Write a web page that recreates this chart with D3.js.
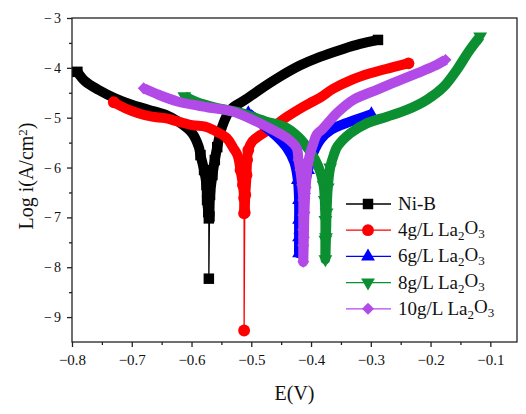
<!DOCTYPE html>
<html>
<head>
<meta charset="utf-8">
<script src="https://cdn.jsdelivr.net/npm/d3@7"></script>
<style>
    body { margin: 0; background: #fff; }
    svg { display: block; font-family: "Liberation Serif", "Times New Roman", serif; }
</style>
</head>
<body>
<div id="chart"></div>
<script>
// polarization curves: [E (V), log i (A/cm2)]
const niB = [
    [-0.791, -4.08], [-0.778, -4.27], [-0.756, -4.44], [-0.728, -4.61], [-0.700, -4.74],
    [-0.672, -4.84], [-0.644, -4.94], [-0.622, -5.08], [-0.599, -5.31], [-0.588, -5.58],
    [-0.585, -5.75], [-0.579, -6.05], [-0.575, -6.35], [-0.574, -6.65], [-0.572, -6.89],
    [-0.571, -7.02], [-0.571, -8.23], [-0.570, -6.98], [-0.569, -6.55], [-0.565, -6.15],
    [-0.561, -5.85], [-0.557, -5.59], [-0.549, -5.19], [-0.535, -4.84], [-0.510, -4.64],
    [-0.491, -4.48], [-0.451, -4.17], [-0.418, -3.95], [-0.385, -3.78], [-0.346, -3.62],
    [-0.318, -3.52], [-0.288, -3.44]
]
const la4 = [
    [-0.730, -4.69], [-0.711, -4.81], [-0.689, -4.91], [-0.666, -4.98], [-0.644, -5.01],
    [-0.622, -5.08], [-0.599, -5.15], [-0.577, -5.18], [-0.563, -5.25], [-0.541, -5.41],
    [-0.530, -5.61], [-0.523, -5.75], [-0.518, -6.05], [-0.514, -6.35], [-0.512, -6.61],
    [-0.512, -6.92], [-0.512, -9.27], [-0.511, -6.90], [-0.510, -6.55], [-0.508, -6.15],
    [-0.507, -5.85], [-0.505, -5.65], [-0.498, -5.47], [-0.485, -5.35], [-0.463, -5.18],
    [-0.440, -4.98], [-0.413, -4.78], [-0.401, -4.70], [-0.385, -4.60], [-0.363, -4.42],
    [-0.334, -4.25], [-0.301, -4.11], [-0.267, -4.00], [-0.237, -3.91]
]
const la6 = [
    [-0.505, -4.91], [-0.482, -5.13], [-0.458, -5.37], [-0.440, -5.61], [-0.428, -5.89],
    [-0.422, -6.25], [-0.420, -6.65], [-0.420, -7.05], [-0.420, -7.40], [-0.420, -7.72],
    [-0.418, -7.25], [-0.416, -6.85], [-0.412, -6.45], [-0.405, -6.05], [-0.396, -5.70],
    [-0.383, -5.42], [-0.366, -5.24], [-0.346, -5.13], [-0.323, -5.03], [-0.299, -4.93]
]
const la8 = [
    [-0.612, -4.57], [-0.593, -4.68], [-0.560, -4.80], [-0.518, -4.90], [-0.477, -5.07],
    [-0.443, -5.19], [-0.421, -5.39], [-0.401, -5.69], [-0.388, -5.97], [-0.379, -6.35],
    [-0.377, -6.65], [-0.376, -7.05], [-0.376, -7.45], [-0.376, -7.84], [-0.375, -7.40],
    [-0.374, -6.90], [-0.372, -6.40], [-0.368, -6.00], [-0.362, -5.75], [-0.356, -5.58],
    [-0.334, -5.31], [-0.306, -5.11], [-0.273, -4.98], [-0.239, -4.84], [-0.206, -4.64],
    [-0.178, -4.38], [-0.156, -4.04], [-0.136, -3.67], [-0.117, -3.37]
]
const la10 = [
    [-0.680, -4.41], [-0.655, -4.54], [-0.622, -4.68], [-0.588, -4.76], [-0.574, -4.79],
    [-0.530, -4.88], [-0.496, -5.05], [-0.463, -5.25], [-0.440, -5.41], [-0.424, -5.61],
    [-0.421, -5.85], [-0.418, -6.05], [-0.415, -6.35], [-0.413, -6.65], [-0.413, -6.95],
    [-0.413, -7.25], [-0.413, -7.56], [-0.413, -7.89], [-0.412, -7.40], [-0.411, -6.90],
    [-0.409, -6.40], [-0.404, -5.85], [-0.396, -5.51], [-0.390, -5.33], [-0.381, -5.23],
    [-0.369, -5.07], [-0.356, -4.90], [-0.329, -4.64], [-0.290, -4.44], [-0.256, -4.27],
    [-0.223, -4.11], [-0.195, -3.97], [-0.175, -3.84]
]

const seriesData = [niB, la4, la6, la8, la10]
const concentrations = [null, 4, 6, 8, 10]   // g/L La2O3, null = plain Ni-B
const colors = ['#000000', '#ff0000', '#0000ff', '#0b8f30', '#b24ae8']
const symbols = ['square', 'circle', 'triangle', 'triangleDown', 'diamond']

const xTicks = [-0.8, -0.7, -0.6, -0.5, -0.4, -0.3, -0.2, -0.1]
const xMinor = [-0.75, -0.65, -0.55, -0.45, -0.35, -0.25, -0.15]
const yTicks = [-9, -8, -7, -6, -5, -4, -3]
const yMinor = [-8.5, -7.5, -6.5, -5.5, -4.5, -3.5]

const margin = { top: 18, right: 9, bottom: 72, left: 72 }
const W = 526, H = 414
const width = W - margin.left - margin.right
const height = H - margin.top - margin.bottom

const svg = d3.select('#chart').append('svg')
    .attr('width', W)
    .attr('height', H)

const chart = svg.append('g')
    .attr('transform', `translate(${margin.left},${margin.top})`)

const x = d3.scaleLinear().domain([-0.8, -0.8 + width / 597.6]).range([0, width])
const y = d3.scaleLinear().domain([-9.5, -3]).range([height, 0])

// axes
const xAxis = chart.append('g')
    .attr('transform', `translate(0,${height})`)
    .call(d3.axisBottom(x).tickValues(xTicks).tickSize(5).tickPadding(7).tickFormat(d3.format('.1f')))
chart.append('g')
    .attr('transform', `translate(0,${height})`)
    .call(d3.axisBottom(x).tickValues(xMinor).tickSize(3).tickFormat(''))
const yAxis = chart.append('g')
    .call(d3.axisLeft(y).tickValues(yTicks).tickSize(5).tickPadding(4).tickFormat(d3.format('d')))
chart.append('g')
    .call(d3.axisLeft(y).tickValues(yMinor).tickSize(3).tickFormat(''))

chart.selectAll('.domain').remove()
chart.selectAll('.tick line').attr('stroke', '#222').attr('stroke-width', 1.3)
xAxis.selectAll('text').attr('font-size', 15).attr('fill', '#111')
    .attr('font-family', '"Liberation Serif", serif')
yAxis.selectAll('text').attr('font-size', 14).attr('fill', '#111')
    .attr('letter-spacing', '2px')
    .attr('font-family', '"Liberation Serif", serif')

// frame
chart.append('rect')
    .attr('width', width)
    .attr('height', height)
    .attr('fill', 'none')
    .attr('stroke', '#222')
    .attr('stroke-width', 1.3)

// axis titles
const yTitle = svg.append('text')
    .attr('transform', 'translate(33,176) rotate(-90)')
    .attr('text-anchor', 'middle')
    .attr('font-size', 20)
    .attr('fill', '#111')
yTitle.append('tspan').text('Log i(A/cm')
yTitle.append('tspan').attr('dy', '-0.45em').attr('font-size', 13).text('2')
yTitle.append('tspan').attr('dy', '0.3em').text(')')

svg.append('text')
    .attr('x', margin.left + width / 2)
    .attr('y', 400)
    .attr('text-anchor', 'middle')
    .attr('font-size', 20)
    .attr('fill', '#111')
    .text('E(V)')

function symbolPath(kind, size) {
    if (kind === 'square') return d3.symbol(d3.symbolSquare, size)()
    if (kind === 'circle') return d3.symbol(d3.symbolCircle, size)()
    if (kind === 'diamond') return d3.symbol(d3.symbolSquare, size * 0.65)()
    return d3.symbol(d3.symbolTriangle, size * 0.75)()
}
function symbolRotate(kind) {
    if (kind === 'triangleDown') return 180
    if (kind === 'diamond') return 45
    return 0
}

const thinLine = d3.line().x(d => x(d[0])).y(d => y(d[1]))
const bandLine = d3.line().x(d => x(d[0])).y(d => y(d[1])).curve(d3.curveCatmullRom.alpha(0.5))
const gap = (a, b) => Math.hypot(x(b[0]) - x(a[0]), y(b[1]) - y(a[1]))

const plot = chart.append('g')

seriesData.forEach((pts, i) => {
    const g = plot.append('g')
    const col = colors[i]

    // thin connecting line
    g.append('path')
        .attr('d', thinLine(pts))
        .attr('fill', 'none')
        .attr('stroke', col)
        .attr('stroke-width', 1.3)

    // dense symbol band: break it where neighbours are far apart on screen
    const segs = [[pts[0]]]
    for (let k = 1; k < pts.length; k++) {
        if (gap(pts[k - 1], pts[k]) > 30) segs.push([])
        segs[segs.length - 1].push(pts[k])
    }
    segs.filter(s => s.length > 1).forEach(s => {
        g.append('path')
            .attr('d', bandLine(s))
            .attr('fill', 'none')
            .attr('stroke', col)
            .attr('stroke-width', 10)
            .attr('stroke-linejoin', 'round')
    })

    // visible symbols where the curve runs steeply, at both ends and at lone points
    const marked = pts.filter((p, k) => {
        if (k === 0 || k === pts.length - 1) return true
        const a = pts[k - 1], b = pts[k + 1]
        if (gap(a, p) > 30 && gap(p, b) > 30) return true
        const dx = Math.abs(x(b[0]) - x(a[0]))
        const dy = Math.abs(y(b[1]) - y(a[1]))
        return dx < 0.3 * dy
    })
    g.selectAll('path.sym')
        .data(marked)
        .join('path')
        .attr('class', 'sym')
        .attr('d', symbolPath(symbols[i], 110))
        .attr('transform', d => `translate(${x(d[0])},${y(d[1])}) rotate(${symbolRotate(symbols[i])})`)
        .attr('fill', col)
})

// legend
const legend = svg.append('g')
    .attr('transform', 'translate(346,0)')

concentrations.forEach((c, i) => {
    const row = legend.append('g')
        .attr('transform', `translate(0,${204 + i * 26.2})`)
    row.append('line')
        .attr('x1', 0).attr('x2', 45)
        .attr('stroke', colors[i])
        .attr('stroke-width', 1.3)
    row.append('path')
        .attr('d', symbolPath(symbols[i], 110))
        .attr('transform', `translate(22,0) rotate(${symbolRotate(symbols[i])})`)
        .attr('fill', colors[i])
    const t = row.append('text')
        .attr('x', 52)
        .attr('y', 6)
        .attr('font-size', 19)
        .attr('fill', '#111')
    if (c === null) {
        t.text('Ni-B')
    } else {
        t.append('tspan').text(`${c}g/L La`)
        t.append('tspan').attr('font-size', 13).attr('dy', '0.3em').text('2')
        t.append('tspan').attr('dy', '-0.3em').text('O')
        t.append('tspan').attr('font-size', 13).attr('dy', '0.3em').text('3')
    }
})
</script>
</body>
</html>
